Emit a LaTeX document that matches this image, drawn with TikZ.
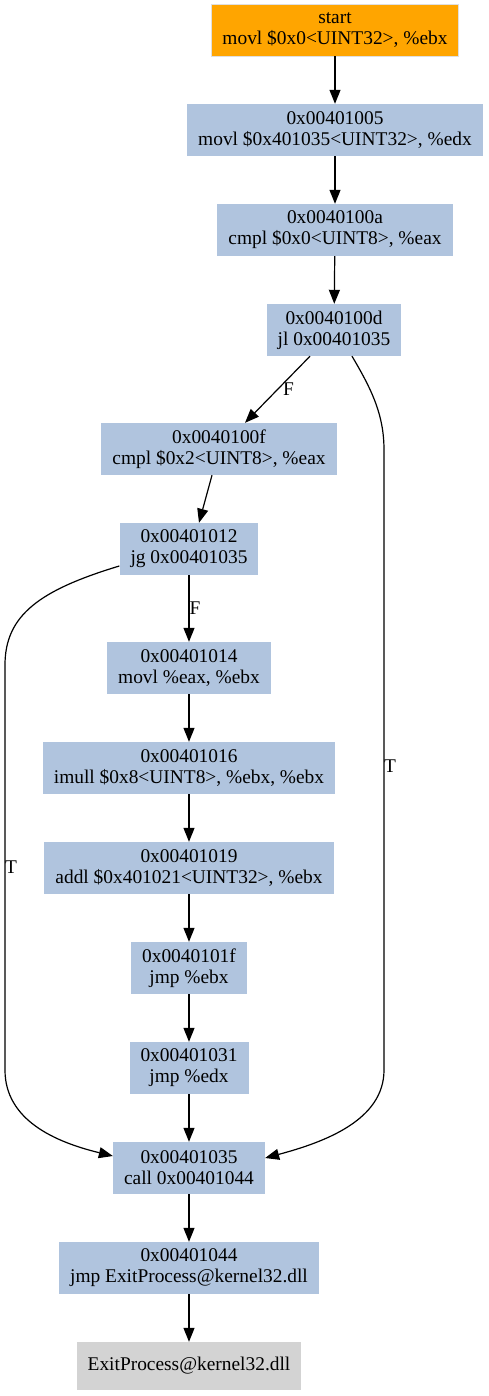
\documentclass[tikz,border=0pt]{standalone}
\usepackage{fontspec}
\setmainfont{Liberation Serif}
\usetikzlibrary{arrows.meta}
\definecolor{gvorange}{HTML}{FFA500}
\definecolor{gvblue}{HTML}{B0C4DE}
\definecolor{gvgray}{HTML}{D3D3D3}
\begin{document}
\begin{tikzpicture}[x=1pt,y=-1pt,
  box/.style={fill=gvblue, inner xsep=11pt, inner ysep=4pt, minimum height=52pt, align=center,
    font=\fontsize{19.4}{21}\selectfont},
  startbox/.style={box, fill=gvorange, draw=gray!25, line width=0.8pt},
  endbox/.style={box, fill=gvgray, minimum height=48pt},
  lbl/.style={font=\fontsize{19.4}{21}\selectfont, inner sep=0pt},
  edge/.style={-{Triangle[length=14pt,width=11pt]}, line width=1.2pt}]
\useasboundingbox (0,0) rectangle (489,1396);
\node[startbox] (s) at (335,30) {start\\movl \$0x0<UINT32>, \%ebx};
\node[box] (n1) at (335,130) {0x00401005\\movl \$0x401035<UINT32>, \%edx};
\node[box] (n2) at (335,230) {0x0040100a\\cmpl \$0x0<UINT8>, \%eax};
\node[box] (n3) at (334,330) {0x0040100d\\jl 0x00401035};
\node[box] (n4) at (219,449) {0x0040100f\\cmpl \$0x2<UINT8>, \%eax};
\node[box] (n5) at (189,549) {0x00401012\\jg 0x00401035};
\node[box] (n6) at (189,668) {0x00401014\\movl \%eax, \%ebx};
\node[box] (n7) at (189,768) {0x00401016\\imull \$0x8<UINT8>, \%ebx, \%ebx};
\node[box] (n8) at (189,868) {0x00401019\\addl \$0x401021<UINT32>, \%ebx};
\node[box] (n9) at (189,968) {0x0040101f\\jmp \%ebx};
\node[box] (n10) at (189,1068) {0x00401031\\jmp \%edx};
\node[box] (n11) at (189,1168) {0x00401035\\call 0x00401044};
\node[box] (n12) at (189,1268) {0x00401044\\jmp ExitProcess@kernel32.dll};
\node[endbox] (n13) at (189,1366) {ExitProcess@kernel32.dll};

\draw[edge] (s) -- (n1);
\draw[edge] (n1) -- (n2);
\draw[edge] (n2) -- (n3);
\draw[edge] ([xshift=-24pt]n3.south) -- node[lbl, pos=0.5, xshift=11pt]{F} ([xshift=26pt]n4.north);
\draw[edge] ([xshift=-7pt]n4.south) -- ([xshift=10pt]n5.north);
\draw[edge] (n5) -- node[lbl, pos=0.5, xshift=6pt]{F} (n6);
\draw[edge] (n6) -- (n7);
\draw[edge] (n7) -- (n8);
\draw[edge] (n8) -- (n9);
\draw[edge] (n9) -- (n10);
\draw[edge] (n10) -- (n11);
\draw[edge] (n11) -- (n12);
\draw[edge] (n12) -- (n13);
\draw[edge] ([yshift=-17pt]n5.west) .. controls (40,590) and (5,615) .. (5,665)
   -- node[lbl, pos=0.5, xshift=6pt]{T} (5,1070)
   .. controls (5,1120) and (55,1142) .. ([yshift=12pt]n11.west);
\draw[edge] ([xshift=18pt]n3.south) .. controls (372,390) and (384,415) .. (384,450)
   -- node[lbl, pos=0.51, xshift=6pt]{T} (384,1070)
   .. controls (384,1120) and (325,1142) .. ([yshift=10pt]n11.east);
\end{tikzpicture}
\end{document}
